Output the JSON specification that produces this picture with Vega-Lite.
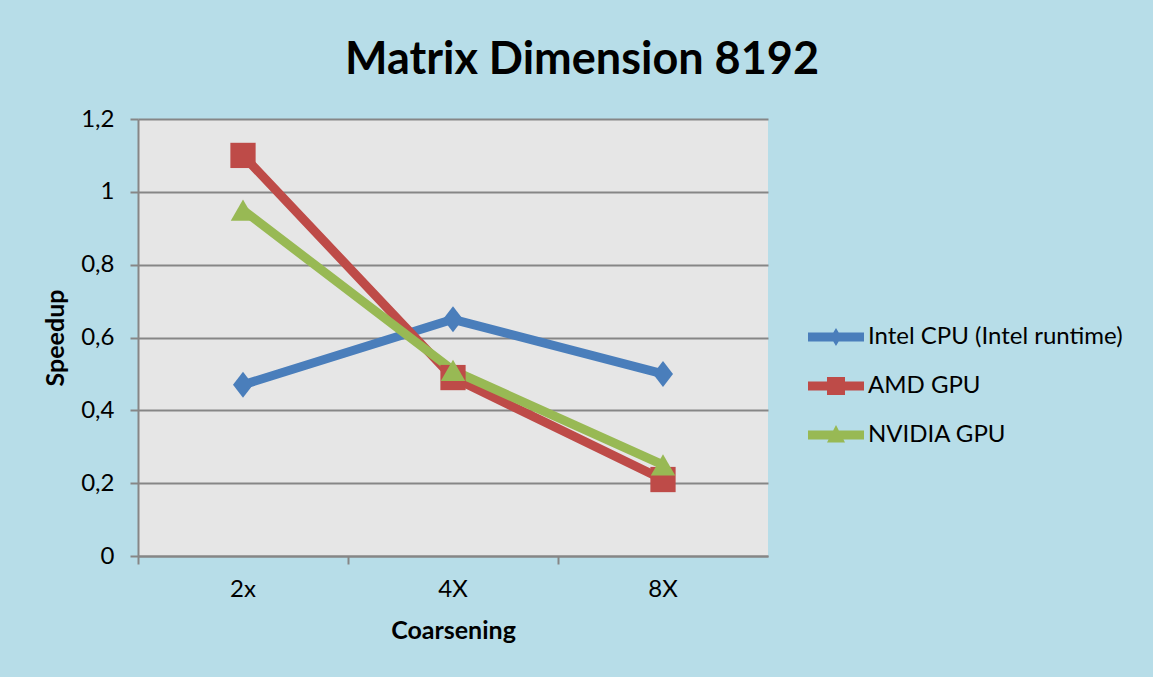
{
  "$schema": "https://vega.github.io/schema/vega-lite/v6.json",
  "width": 630,
  "height": 437,
  "autosize": "none",
  "padding": {"left": 138, "top": 119, "right": 385, "bottom": 121},
  "background": "#b7dde8",
  "config": {
    "font": "Lato",
    "view": {"fill": "#e6e6e6", "stroke": null},
    "axis": {
      "domainColor": "#868686",
      "domainWidth": 2,
      "tickColor": "#868686",
      "tickWidth": 2,
      "tickSize": 8,
      "gridColor": "#868686",
      "gridWidth": 2,
      "labelColor": "#000000",
      "labelFontSize": 24,
      "titleColor": "#000000",
      "titleFontWeight": "bold"
    }
  },
  "title": {
    "text": "Matrix Dimension 8192",
    "fontSize": 45,
    "fontWeight": "bold",
    "color": "#000000",
    "anchor": "middle",
    "dx": 129,
    "offset": 24
  },
  "data": {
    "values": [
      {"series": "Intel CPU (Intel runtime)", "coarsening": "2x", "speedup": 0.47},
      {"series": "Intel CPU (Intel runtime)", "coarsening": "4X", "speedup": 0.65},
      {"series": "Intel CPU (Intel runtime)", "coarsening": "8X", "speedup": 0.5},
      {"series": "AMD GPU", "coarsening": "2x", "speedup": 1.1},
      {"series": "AMD GPU", "coarsening": "4X", "speedup": 0.49},
      {"series": "AMD GPU", "coarsening": "8X", "speedup": 0.21},
      {"series": "NVIDIA GPU", "coarsening": "2x", "speedup": 0.95},
      {"series": "NVIDIA GPU", "coarsening": "4X", "speedup": 0.51},
      {"series": "NVIDIA GPU", "coarsening": "8X", "speedup": 0.25}
    ]
  },
  "encoding": {
    "x": {
      "field": "coarsening",
      "type": "ordinal",
      "sort": ["2x", "4X", "8X"],
      "bandPosition": 0.5,
      "scale": {"type": "band", "paddingInner": 0, "paddingOuter": 0},
      "axis": {
        "title": "Coarsening",
        "titleFontSize": 25,
        "titlePadding": 17,
        "labelAngle": 0,
        "labelPadding": 13,
        "bandPosition": 0,
        "grid": false
      }
    },
    "y": {
      "field": "speedup",
      "type": "quantitative",
      "scale": {"domain": [0, 1.2], "nice": false, "zero": true},
      "axis": {
        "title": "Speedup",
        "titleFontSize": 25,
        "titlePadding": 12,
        "values": [0, 0.2, 0.4, 0.6, 0.8, 1, 1.2],
        "labelExpr": "replace(format(datum.value, '~g'), '.', ',')",
        "labelPadding": 16,
        "grid": true
      }
    }
  },
  "layer": [
    {
      "mark": {"type": "line", "strokeWidth": 9, "strokeCap": "round", "strokeJoin": "round"},
      "encoding": {
        "color": {
          "field": "series",
          "type": "nominal",
          "scale": {
            "domain": ["Intel CPU (Intel runtime)", "AMD GPU", "NVIDIA GPU"],
            "range": ["#4a7ebb", "#be4b48", "#98b954"]
          },
          "legend": null
        }
      }
    },
    {
      "mark": {"type": "point", "filled": true, "opacity": 1, "strokeWidth": 0},
      "encoding": {
        "color": {
          "field": "series",
          "type": "nominal",
          "scale": {
            "domain": ["Intel CPU (Intel runtime)", "AMD GPU", "NVIDIA GPU"],
            "range": ["#4a7ebb", "#be4b48", "#98b954"]
          },
          "legend": null
        },
        "shape": {
          "field": "series",
          "type": "nominal",
          "scale": {
            "domain": ["Intel CPU (Intel runtime)", "AMD GPU", "NVIDIA GPU"],
            "range": ["M0,-1L0.77,0L0,1L-0.77,0Z", "square", "triangle-up"]
          },
          "legend": null
        },
        "size": {
          "field": "series",
          "type": "nominal",
          "scale": {
            "domain": ["Intel CPU (Intel runtime)", "AMD GPU", "NVIDIA GPU"],
            "range": [676, 600, 560]
          },
          "legend": null
        }
      }
    },
    {
      "mark": {"type": "point", "filled": true, "opacity": 0},
      "encoding": {
        "color": {
          "field": "series",
          "type": "nominal",
          "scale": {
            "domain": ["Intel CPU (Intel runtime)", "AMD GPU", "NVIDIA GPU"],
            "range": ["#4a7ebb", "#be4b48", "#98b954"]
          },
          "legend": {
            "title": null,
            "orient": "none",
            "legendX": 678,
            "legendY": 198,
            "padding": 0,
            "symbolSize": 1600,
            "symbolOpacity": 1,
            "symbolStrokeWidth": 0,
            "labelFontSize": 24,
            "labelColor": "#000000",
            "labelOffset": 12,
            "rowPadding": 17,
            "labelLimit": 400
          }
        },
        "shape": {
          "field": "series",
          "type": "nominal",
          "scale": {
            "domain": ["Intel CPU (Intel runtime)", "AMD GPU", "NVIDIA GPU"],
            "range": [
              "M-1.4,-0.225H1.4V0.225H-1.4Z M0,-0.45L0.27,0L0,0.45L-0.27,0Z",
              "M-1.4,-0.225H1.4V0.225H-1.4Z M-0.45,-0.45H0.45V0.45H-0.45Z",
              "M-1.4,-0.225H1.4V0.225H-1.4Z M0,-0.5L0.45,0.38H-0.45Z"
            ]
          },
          "legend": {
            "title": null,
            "orient": "none",
            "legendX": 678,
            "legendY": 198,
            "padding": 0,
            "symbolSize": 1600,
            "symbolOpacity": 1,
            "symbolStrokeWidth": 0,
            "labelFontSize": 24,
            "labelColor": "#000000",
            "labelOffset": 12,
            "rowPadding": 17,
            "labelLimit": 400
          }
        }
      }
    }
  ],
  "resolve": {"scale": {"color": "independent", "shape": "independent", "size": "independent"}}
}
